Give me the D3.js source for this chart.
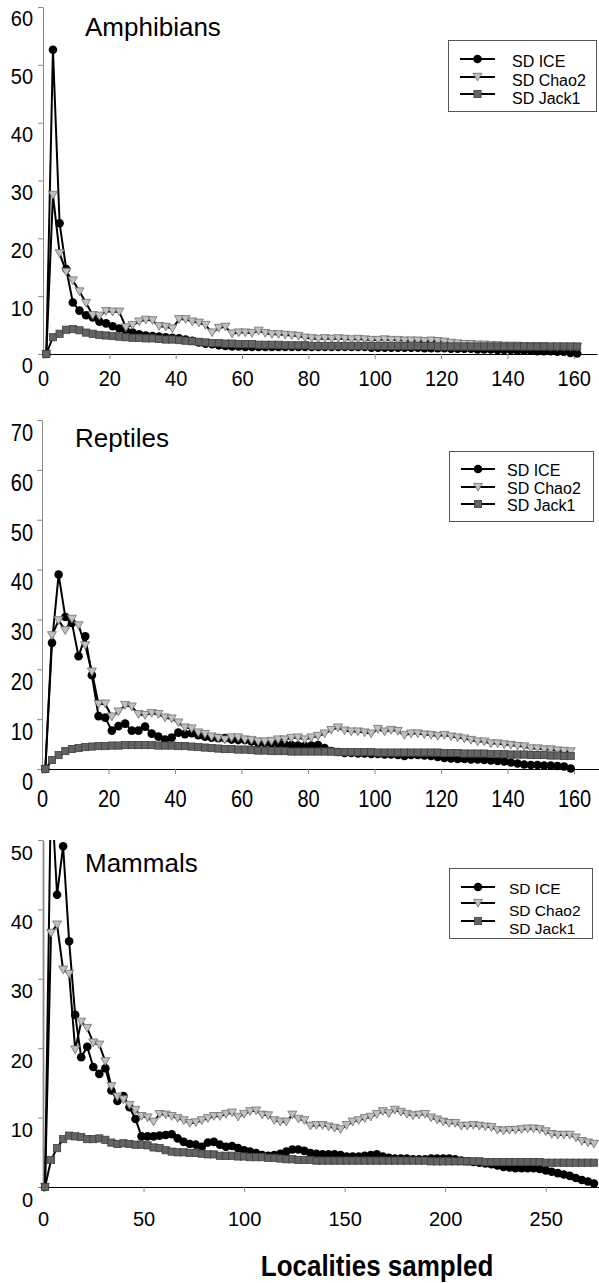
<!DOCTYPE html>
<html>
<head>
<meta charset="utf-8">
<script src="https://cdn.jsdelivr.net/npm/d3@7"></script>
<style>
  body { margin: 0; background: #fff; }
  svg { display: block; }
  text { font-family: Arial, "Liberation Sans", sans-serif; fill: #000; }
</style>
</head>
<body>
<svg id="chart" width="599" height="1283"></svg>
<script>
// series names (legend order = draw order)
const seriesNames = ["SD ICE", "SD Chao2", "SD Jack1"];

// ---- Amphibians ----
const amphX = [1,3,5,7,9,11,13,15,17,19,21,23,25,27,29,31,33,35,37,39,41,43,45,47,49,51,53,55,57,59,
  61,63,65,67,69,71,73,75,77,79,81,83,85,87,89,91,93,95,97,99,101,103,105,107,109,111,113,115,117,119,
  121,123,125,127,129,131,133,135,137,139,141,143,145,147,149,151,153,155,157,159,161];
const amphICE = [0,52.6,22.6,14.7,8.9,7.5,6.7,6.3,5.6,5.3, 4.8,4.4,4.0,3.7,3.4,3.2,3.1,3.0,2.9,2.8,
  2.7,2.5,2.3,2.0,1.8,1.7,1.5,1.4,1.3,1.3, 1.2,1.2,1.2,1.2,1.2,1.2,1.2,1.2,1.2,1.2,
  1.2,1.2,1.2,1.2,1.2,1.2,1.2,1.2,1.2,1.1, 1.1,1.1,1.1,1.1,1.1,1.1,1.1,1.0,1.0,1.0,
  1.0,0.9,0.9,0.9,0.9,0.8,0.8,0.8,0.7,0.7, 0.7,0.6,0.6,0.6,0.5,0.5,0.5,0.4,0.4,0.2, 0.1];
const amphChao2 = [0,27.5,17.4,14.2,12.7,10.8,8.8,6.7,6.6,7.4, 7.3,7.3,4.6,5.0,5.6,5.9,5.8,4.8,4.7,4.4,
  6.0,6.0,5.6,5.4,5.0,3.7,4.5,4.7,3.5,3.7, 3.7,3.6,4.0,3.6,3.4,3.4,3.3,3.2,3.1,2.8,
  2.7,2.6,2.7,2.6,2.7,2.6,2.5,2.6,2.5,2.4, 2.4,2.5,2.4,2.4,2.3,2.3,2.3,2.2,2.3,2.2,
  2.1,1.9,1.8,1.7,1.7,1.6,1.6,1.5,1.5,1.4, 1.4,1.4,1.3,1.3,1.3,1.3,1.2,1.2,1.2,1.2, 1.2];
const amphJack1 = [0,2.9,3.5,4.2,4.3,4.1,3.7,3.5,3.3,3.2, 3.1,3.0,2.9,2.8,2.8,2.7,2.7,2.6,2.5,2.5,
  2.4,2.3,2.2,2.1,2.0,1.9,1.9,1.8,1.8,1.7, 1.7,1.7,1.6,1.6,1.6,1.6,1.5,1.5,1.5,1.5,
  1.4,1.4,1.4,1.4,1.4,1.4,1.4,1.4,1.4,1.4, 1.4,1.4,1.4,1.4,1.4,1.4,1.4,1.4,1.4,1.3,
  1.3,1.3,1.3,1.3,1.3,1.3,1.3,1.3,1.3,1.3, 1.3,1.3,1.3,1.3,1.3,1.3,1.3,1.3,1.3,1.3, 1.3];
const amphXTicks = [0,20,40,60,80,100,120,140,160];
const amphYTicks = [0,10,20,30,40,50,60];

// ---- Reptiles ----
const reptX = [1,3,5,7,9,11,13,15,17,19,21,23,25,27,29,31,33,35,37,39,41,43,45,47,49,51,53,55,57,59,
  61,63,65,67,69,71,73,75,77,79,81,83,85,87,89,91,93,95,97,99,101,103,105,107,109,111,113,115,117,119,
  121,123,125,127,129,131,133,135,137,139,141,143,145,147,149,151,153,155,157,159];
const reptICE = [0,25.3,39.0,30.5,29.3,22.6,26.6,18.8,10.6,10.3, 7.7,8.6,9.1,7.7,7.7,8.5,7.1,6.5,5.9,6.3,
  7.3,7.0,7.2,6.8,6.5,6.3,6.2,6.2,5.9,5.8, 5.8,5.5,5.2,5.2,5.1,5.1,5.0,4.8,4.7,4.6,
  4.7,4.8,4.2,3.6,3.4,3.2,3.2,3.1,3.1,3.0, 3.0,2.9,2.9,2.8,2.6,2.8,2.8,2.7,2.6,2.4,
  2.2,2.1,2.0,2.0,1.9,1.9,1.8,1.7,1.6,1.5, 1.3,1.1,0.9,0.8,0.8,0.7,0.7,0.6,0.5,0.1];
const reptChao2 = [0,26.8,29.8,27.8,30.1,28.8,24.8,19.5,13.0,13.1, 10.5,11.5,12.8,12.5,11.0,10.8,11.2,11.0,10.3,10.1,
  9.3,8.3,8.1,7.3,7.0,6.5,6.2,5.9,6.3,6.3, 5.9,5.8,5.5,5.5,5.6,5.9,5.9,6.2,6.3,5.9,
  6.3,6.6,7.1,7.8,8.3,7.7,7.5,7.5,7.3,7.1, 8.0,7.5,7.8,7.6,6.8,7.1,7.1,6.9,6.8,6.6,
  6.8,6.5,6.3,6.1,5.8,5.5,5.5,5.1,5.1,4.9, 4.8,4.6,4.5,4.1,4.1,3.9,3.9,3.7,3.6,3.5];
const reptJack1 = [0,1.8,2.8,3.6,4.0,4.2,4.4,4.5,4.6,4.6, 4.7,4.7,4.8,4.8,4.8,4.8,4.8,4.7,4.7,4.7,
  4.6,4.6,4.5,4.4,4.3,4.2,4.1,4.0,4.0,3.9, 3.9,3.8,3.7,3.7,3.6,3.6,3.6,3.5,3.5,3.5,
  3.5,3.5,3.5,3.5,3.4,3.4,3.4,3.4,3.4,3.4, 3.3,3.3,3.3,3.3,3.3,3.3,3.3,3.3,3.3,3.3,
  3.2,3.2,3.2,3.1,3.1,3.1,3.1,3.0,3.0,3.0, 2.9,2.9,2.9,2.8,2.8,2.8,2.7,2.7,2.6,2.6];
const reptXTicks = [0,20,40,60,80,100,120,140,160];
const reptYTicks = [0,10,20,30,40,50,60,70];

// ---- Mammals ----
const mammX = [1,4,7,10,13,16,19,22,25,28,31,34,37,40,43,46,49,52,55,58,61,64,67,70,73,76,79,82,85,88,
  91,94,97,100,103,106,109,112,115,118,121,124,127,130,133,136,139,142,145,148,151,154,157,160,163,166,169,172,175,178,
  181,184,187,190,193,196,199,202,205,208,211,214,217,220,223,226,229,232,235,238,241,244,247,250,253,256,259,262,265,268,
  271,274];
const mammICE = [0,58,42.1,49.1,35.4,24.8,18.7,20.2,17.3,16.3, 17.1,13.9,12.4,13.1,11.5,9.8,7.3,7.3,7.3,7.4,
  7.5,7.6,7.0,6.5,6.2,6.1,5.8,6.4,6.5,6.1, 5.8,5.9,5.6,5.3,5.1,4.9,4.6,4.5,4.6,4.8,
  5.1,5.4,5.4,5.2,4.9,4.8,4.7,4.7,4.7,4.6, 4.4,4.4,4.4,4.5,4.6,4.7,4.4,4.2,4.1,4.1,
  4.1,4.0,4.0,4.0,4.1,4.1,4.1,4.1,4.0,3.8, 3.7,3.6,3.5,3.4,3.3,3.1,2.9,2.8,2.7,2.7,
  2.7,2.7,2.6,2.4,2.2,2.0,1.8,1.6,1.3,1.0, 0.8,0.5];
const mammChao2 = [0,36.6,37.8,31.3,30.7,19.8,23.8,22.9,20.8,20.5, 18.1,14.5,13.0,12.6,11.8,11.1,10.2,10.0,9.4,10.5,
  10.4,10.2,9.9,9.6,9.2,9.3,9.6,9.9,10.2,10.2, 10.5,10.7,10.1,10.5,10.9,11.0,10.4,10.3,9.6,9.4,
  9.4,10.4,9.8,9.6,8.8,8.9,8.9,8.7,8.5,8.3, 8.9,9.4,9.6,9.9,10.1,10.5,10.9,10.6,11.1,10.8,
  10.5,10.3,10.4,10.5,10.0,9.7,9.4,9.2,9.2,8.8, 8.8,8.9,8.8,8.7,8.6,8.2,8.1,8.2,8.2,8.3,
  8.4,8.4,8.3,8.0,7.6,7.5,7.5,7.5,7.1,6.6, 6.4,6.2];
const mammJack1 = [0,3.9,5.6,6.9,7.4,7.3,7.2,6.9,6.9,7.0, 6.8,6.4,6.2,6.3,6.2,6.1,6.1,6.0,5.7,5.6,
  5.3,5.1,5.0,5.0,4.9,4.9,4.8,4.7,4.7,4.5, 4.5,4.5,4.4,4.4,4.3,4.3,4.3,4.2,4.2,4.1,
  4.0,4.0,3.9,3.9,3.9,3.8,3.8,3.8,3.8,3.8, 3.8,3.8,3.8,3.8,3.8,3.8,3.8,3.8,3.8,3.8,
  3.8,3.8,3.8,3.8,3.7,3.7,3.7,3.7,3.7,3.7, 3.7,3.7,3.7,3.6,3.6,3.6,3.6,3.6,3.6,3.6,
  3.6,3.6,3.6,3.5,3.5,3.5,3.5,3.5,3.5,3.5, 3.5,3.5];
const mammXTicks = [0,50,100,150,200,250];
const mammYTicks = [0,10,20,30,40,50];

const svg = d3.select("#chart");

// panel layout (pixels); labS = vertical stretch of the tick labels
const panels = [
  { title: "Amphibians", xs: amphX, series: [amphICE, amphChao2, amphJack1], xTicks: amphXTicks, yTicks: amphYTicks,
    left: 43, right: 597, top: 7, bottom: 354, xMax: 167, yMax: 60, xLabY: 24, yLabY: 11, yAxisW: 1, labS: 1.12,
    titleX: 85, titleY: 36,
    legend: { x: 448, y: 40, w: 148, h: 71, rows: [59, 77, 94], textRows: [61, 79.5, 97.5], x1: 460, x2: 495, tx: 512, fs: 16, s: 1.08 } },
  { title: "Reptiles", xs: reptX, series: [reptICE, reptChao2, reptJack1], xTicks: reptXTicks, yTicks: reptYTicks,
    left: 42, right: 599, top: 420, bottom: 769, xMax: 167.5, yMax: 70, xLabY: 30, yLabY: 12, yAxisW: 1, labS: 1.2,
    titleX: 75, titleY: 447,
    legend: { x: 449, y: 451, w: 144, h: 70, rows: [469, 487, 504], textRows: [470, 487.5, 505], x1: 461, x2: 495, tx: 507, fs: 16, s: 1.08 } },
  { title: "Mammals", xs: mammX, series: [mammICE, mammChao2, mammJack1], xTicks: mammXTicks, yTicks: mammYTicks,
    left: 43, right: 599, top: 840, bottom: 1187, xMax: 276.5, yMax: 50, xLabY: 32, yLabY: 12, yAxisW: 1.8, labS: 1.0,
    titleX: 85, titleY: 872,
    legend: { x: 449, y: 868, w: 143, h: 70, rows: [887, 903, 921], textRows: [889, 910.5, 928.5], x1: 461, x2: 495, tx: 509, fs: 15.5, s: 1 } }
];

// marker drawing
function drawMarker(g, k, cx, cy) {
  if (k === 0) {
    g.append("circle").attr("cx", cx).attr("cy", cy).attr("r", 4.3).attr("fill", "#000");
  } else if (k === 1) {
    g.append("path")
      .attr("d", `M${cx-4.5},${cy-3.7}L${cx+4.5},${cy-3.7}L${cx},${cy+4.1}Z`)
      .attr("fill", "#c0c0c0").attr("stroke", "#6e6e6e").attr("stroke-width", 0.8);
  } else {
    g.append("rect").attr("x", cx-3.6).attr("y", cy-3.6).attr("width", 7.2).attr("height", 7.2)
      .attr("fill", "#636363").attr("stroke", "#404040").attr("stroke-width", 0.8);
  }
}

panels.forEach(function(p, pi) {
  const x = d3.scaleLinear().domain([0, p.xMax]).range([p.left, p.right]);
  const y = d3.scaleLinear().domain([0, p.yMax]).range([p.bottom, p.top]);
  const g = svg.append("g");

  // y axis
  const ya = g.append("g").attr("transform", `translate(${p.left},0)`)
    .call(d3.axisLeft(y).tickValues(p.yTicks).tickSize(5).tickSizeOuter(0).tickFormat(d3.format("d")));
  ya.select(".domain").attr("stroke", "#8a8a8a").attr("stroke-width", p.yAxisW);
  ya.selectAll(".tick line").attr("stroke", "#8a8a8a");
  ya.selectAll(".tick text").attr("x", null).attr("y", null).attr("dy", "0.35em")
    .attr("transform", `translate(${33 - p.left},${p.yLabY}) scale(1,${p.labS})`)
    .attr("font-size", 20).attr("font-family", "Arial, 'Liberation Sans', sans-serif").attr("fill", "#000");

  // x axis
  const xa = g.append("g").attr("transform", `translate(0,${p.bottom})`)
    .call(d3.axisBottom(x).tickValues(p.xTicks).tickSize(5).tickSizeOuter(0).tickFormat(d3.format("d")));
  xa.select(".domain").attr("stroke", "#000").attr("stroke-width", 1.2);
  xa.selectAll(".tick line").attr("stroke", "#8a8a8a");
  xa.selectAll(".tick text").attr("x", null).attr("y", null).attr("dy", "0.35em")
    .attr("transform", `translate(0,${p.xLabY}) scale(1,${p.labS})`)
    .attr("font-size", 20).attr("font-family", "Arial, 'Liberation Sans', sans-serif").attr("fill", "#000");

  // clip to plot area top (mammal ICE runs off the top)
  const clipId = "clip" + pi;
  svg.append("clipPath").attr("id", clipId).append("rect")
    .attr("x", 0).attr("y", p.top).attr("width", 599).attr("height", p.bottom - p.top + 20);
  const plot = g.append("g").attr("clip-path", `url(#${clipId})`);

  const line = d3.line().x(d => x(d[0])).y(d => y(d[1]));
  p.series.forEach(function(vals, k) {
    const pts = p.xs.map((xv, i) => [xv, vals[i]]);
    plot.append("path").datum(pts).attr("d", line)
      .attr("fill", "none").attr("stroke", "#000").attr("stroke-width", 2).attr("stroke-linejoin", "round");
    const mg = plot.append("g");
    pts.forEach(d => drawMarker(mg, k, x(d[0]), y(d[1])));
  });

  // title
  g.append("text").attr("x", p.titleX).attr("y", p.titleY).attr("font-size", 26).text(p.title);

  // legend
  const L = p.legend;
  g.append("rect").attr("x", L.x + 0.5).attr("y", L.y + 0.5).attr("width", L.w).attr("height", L.h)
    .attr("fill", "#fff").attr("stroke", "#555").attr("stroke-width", 1);
  seriesNames.forEach(function(name, k) {
    g.append("line").attr("x1", L.x1).attr("x2", L.x2).attr("y1", L.rows[k]).attr("y2", L.rows[k])
      .attr("stroke", "#000").attr("stroke-width", 2);
    drawMarker(g, k, (L.x1 + L.x2) / 2, L.rows[k]);
    g.append("text").attr("transform", `translate(${L.tx},${L.textRows[k]}) scale(1,${L.s})`).attr("dy", "0.35em")
      .attr("font-size", L.fs).text(name);
  });
});

// shared x-axis title
svg.append("text")
  .attr("transform", "translate(377,1276) scale(1,1.15)")
  .attr("text-anchor", "middle").attr("font-size", 26).attr("font-weight", "bold")
  .text("Localities sampled");
</script>
</body>
</html>
